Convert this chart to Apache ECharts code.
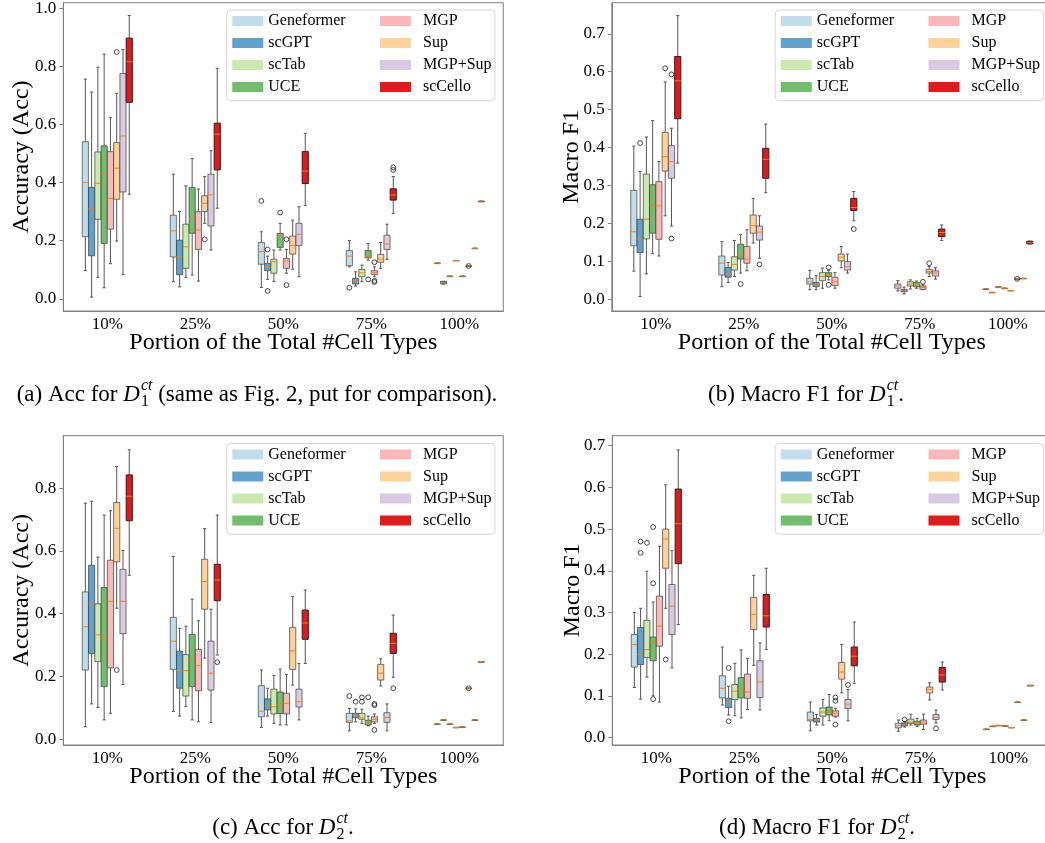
<!DOCTYPE html>
<html><head><meta charset="utf-8">
<script src="https://cdn.jsdelivr.net/npm/echarts@6/dist/echarts.min.js"></script>
<style>html,body{margin:0;padding:0;background:#fff}#c{width:1045px;height:843px}</style>
</head><body><div id="c"></div>
<script>
// ---------- data ----------
const categories = ['10%', '25%', '50%', '75%', '100%'];
const models = ['Geneformer', 'scGPT', 'scTab', 'UCE', 'MGP', 'Sup', 'MGP+Sup', 'scCello'];
const yTicksAccD1 = [0, 0.2, 0.4, 0.6, 0.8, 1.0];
const yTicksF1D1 = [0, 0.1, 0.2, 0.3, 0.4, 0.5, 0.6, 0.7];
const yTicksAccD2 = [0, 0.2, 0.4, 0.6, 0.8];
const yTicksF1D2 = [0, 0.1, 0.2, 0.3, 0.4, 0.5, 0.6, 0.7];

// each model: 5 categories of [min, q1, median, q3, max]
const accD1 = [
  [[0.097,0.214,0.401,0.541,0.757],[0.059,0.144,0.234,0.288,0.429],[0.039,0.119,0.163,0.194,0.231],[0.110,0.114,0.147,0.166,0.201],[0.123,0.123,0.123,0.123,0.123]],
  [[0.006,0.148,0.310,0.384,0.712],[0.041,0.083,0.145,0.202,0.301],[0.067,0.097,0.110,0.122,0.147],[0.044,0.051,0.061,0.070,0.093],[0.051,0.051,0.055,0.060,0.060]],
  [[0.074,0.274,0.398,0.506,0.798],[0.074,0.105,0.179,0.257,0.389],[0.060,0.088,0.128,0.136,0.168],[0.059,0.076,0.090,0.101,0.116],[0.078,0.078,0.078,0.078,0.078]],
  [[0.038,0.191,0.432,0.527,0.843],[0.082,0.226,0.277,0.383,0.483],[0.168,0.177,0.217,0.225,0.260],[0.133,0.141,0.145,0.166,0.190],[0.132,0.132,0.132,0.132,0.132]],
  [[0.121,0.240,0.346,0.507,0.624],[0.061,0.170,0.237,0.300,0.378],[0.088,0.105,0.130,0.139,0.170],[0.076,0.084,0.090,0.097,0.110],[0.078,0.078,0.078,0.078,0.078]],
  [[0.199,0.343,0.450,0.538,0.708],[0.260,0.301,0.329,0.355,0.421],[0.102,0.154,0.184,0.216,0.271],[0.105,0.126,0.137,0.153,0.194],[0.113,0.113,0.113,0.113,0.113]],
  [[0.083,0.368,0.561,0.776,0.858],[0.168,0.251,0.358,0.429,0.510],[0.076,0.183,0.222,0.260,0.317],[0.136,0.170,0.189,0.219,0.257],[0.174,0.174,0.174,0.174,0.174]],
  [[0.360,0.677,0.817,0.898,0.976],[0.312,0.444,0.567,0.605,0.794],[0.321,0.397,0.440,0.507,0.570],[0.294,0.340,0.358,0.379,0.421],[0.336,0.336,0.336,0.336,0.336]]
];
// [categoryIndex, modelIndex, value]
const accD1Outliers = [
  [0,5,0.850],[1,5,0.205],[2,0,0.337],[2,1,0.170],[2,1,0.027],[2,3,0.297],[2,4,0.205],[2,4,0.047],
  [3,0,0.038],[3,3,0.067],[3,4,0.126],[3,4,0.058],[3,4,0.062],[3,7,0.453],[3,7,0.444],[4,5,0.113]
];

const f1D1 = [
  [[0.074,0.141,0.178,0.287,0.404],[0.033,0.064,0.095,0.114,0.152],[0.025,0.040,0.046,0.055,0.076],[0.022,0.029,0.035,0.040,0.049],[0.027,0.027,0.027,0.027,0.027]],
  [[0.007,0.123,0.159,0.211,0.337],[0.044,0.058,0.067,0.084,0.097],[0.025,0.033,0.038,0.044,0.062],[0.014,0.020,0.023,0.026,0.032],[0.018,0.018,0.018,0.018,0.018]],
  [[0.067,0.159,0.211,0.330,0.428],[0.060,0.077,0.092,0.112,0.155],[0.029,0.049,0.060,0.070,0.082],[0.027,0.035,0.040,0.046,0.051],[0.033,0.033,0.033,0.033,0.033]],
  [[0.120,0.174,0.249,0.302,0.471],[0.069,0.106,0.115,0.145,0.171],[0.051,0.060,0.064,0.070,0.076],[0.029,0.033,0.040,0.044,0.048],[0.029,0.029,0.029,0.029,0.029]],
  [[0.114,0.158,0.246,0.310,0.363],[0.075,0.095,0.106,0.139,0.183],[0.029,0.036,0.046,0.058,0.070],[0.025,0.026,0.031,0.035,0.038],[0.023,0.023,0.023,0.023,0.023]],
  [[0.220,0.338,0.376,0.440,0.573],[0.148,0.174,0.194,0.222,0.266],[0.083,0.101,0.111,0.119,0.139],[0.060,0.069,0.073,0.079,0.086],[0.054,0.054,0.054,0.054,0.054]],
  [[0.193,0.319,0.363,0.405,0.451],[0.108,0.156,0.177,0.193,0.220],[0.069,0.077,0.086,0.099,0.119],[0.053,0.061,0.069,0.075,0.083],[0.055,0.055,0.055,0.055,0.055]],
  [[0.359,0.476,0.576,0.640,0.748],[0.281,0.319,0.369,0.398,0.462],[0.207,0.234,0.242,0.266,0.284],[0.155,0.165,0.176,0.185,0.196],[0.146,0.146,0.149,0.153,0.153]]
];
const f1D1Outliers = [
  [0,1,0.412],[0,5,0.609],[0,6,0.593],[0,6,0.160],[1,3,0.040],[1,6,0.092],[2,3,0.084],[2,3,0.038],
  [2,7,0.185],[3,4,0.046],[3,5,0.095],[4,5,0.054]
];

const accD2 = [
  [[0.039,0.220,0.358,0.469,0.752],[0.088,0.222,0.312,0.388,0.582],[0.037,0.071,0.089,0.170,0.220],[0.026,0.053,0.058,0.082,0.098],[0.048,0.048,0.048,0.048,0.048]],
  [[0.112,0.273,0.431,0.554,0.758],[0.073,0.162,0.218,0.280,0.353],[0.073,0.093,0.106,0.128,0.162],[0.055,0.068,0.077,0.082,0.096],[0.061,0.061,0.061,0.061,0.061]],
  [[0.101,0.247,0.332,0.431,0.580],[0.103,0.137,0.218,0.269,0.360],[0.050,0.080,0.103,0.159,0.203],[0.050,0.063,0.067,0.082,0.095],[0.048,0.048,0.048,0.048,0.048]],
  [[0.061,0.167,0.321,0.483,0.714],[0.061,0.167,0.255,0.334,0.446],[0.045,0.081,0.111,0.150,0.223],[0.042,0.045,0.053,0.060,0.073],[0.037,0.037,0.037,0.037,0.037]],
  [[0.082,0.227,0.439,0.570,0.728],[0.055,0.154,0.234,0.286,0.377],[0.045,0.080,0.114,0.146,0.206],[0.050,0.055,0.063,0.071,0.080],[0.039,0.039,0.039,0.039,0.039]],
  [[0.417,0.565,0.672,0.754,0.869],[0.258,0.414,0.502,0.573,0.671],[0.172,0.222,0.281,0.356,0.454],[0.169,0.188,0.210,0.238,0.256],[0.162,0.162,0.162,0.162,0.162]],
  [[0.174,0.336,0.439,0.541,0.601],[0.053,0.156,0.210,0.312,0.414],[0.061,0.102,0.119,0.159,0.241],[0.026,0.053,0.069,0.084,0.112],[0.061,0.061,0.061,0.061,0.061]],
  [[0.522,0.696,0.774,0.842,0.922],[0.268,0.441,0.507,0.557,0.714],[0.241,0.318,0.370,0.411,0.475],[0.197,0.273,0.305,0.337,0.395],[0.247,0.247,0.247,0.247,0.247]]
];
const accD2Outliers = [
  [0,5,0.220],[1,7,0.245],[3,0,0.137],[3,1,0.119],[3,2,0.133],[3,2,0.119],[3,3,0.133],
  [3,4,0.112],[3,4,0.108],[3,4,0.029],[3,7,0.162],[4,5,0.162]
];

const f1D2 = [
  [[0.120,0.169,0.223,0.247,0.300],[0.078,0.095,0.118,0.148,0.217],[0.016,0.040,0.043,0.061,0.085],[0.015,0.023,0.028,0.034,0.042],[0.020,0.020,0.020,0.020,0.020]],
  [[0.092,0.175,0.199,0.264,0.310],[0.054,0.072,0.085,0.094,0.123],[0.030,0.037,0.042,0.046,0.055],[0.025,0.028,0.031,0.035,0.038],[0.027,0.027,0.027,0.027,0.027]],
  [[0.145,0.192,0.211,0.281,0.399],[0.052,0.091,0.111,0.127,0.178],[0.030,0.051,0.061,0.071,0.091],[0.030,0.034,0.037,0.044,0.056],[0.029,0.029,0.029,0.029,0.029]],
  [[0.100,0.184,0.229,0.241,0.325],[0.047,0.095,0.118,0.144,0.210],[0.040,0.054,0.061,0.073,0.103],[0.027,0.030,0.035,0.039,0.046],[0.028,0.028,0.028,0.028,0.028]],
  [[0.085,0.219,0.267,0.339,0.459],[0.067,0.094,0.109,0.152,0.190],[0.049,0.051,0.058,0.064,0.070],[0.019,0.032,0.037,0.042,0.056],[0.024,0.024,0.024,0.024,0.024]],
  [[0.310,0.406,0.476,0.500,0.606],[0.173,0.259,0.295,0.336,0.389],[0.107,0.140,0.157,0.180,0.223],[0.090,0.107,0.115,0.121,0.131],[0.085,0.085,0.085,0.085,0.085]],
  [[0.167,0.247,0.315,0.367,0.448],[0.066,0.096,0.133,0.184,0.227],[0.040,0.070,0.080,0.091,0.115],[0.035,0.043,0.048,0.055,0.066],[0.042,0.042,0.042,0.042,0.042]],
  [[0.271,0.417,0.513,0.596,0.690],[0.211,0.265,0.292,0.343,0.406],[0.130,0.172,0.195,0.217,0.277],[0.114,0.133,0.150,0.168,0.181],[0.125,0.125,0.125,0.125,0.125]]
];
const f1D2Outliers = [
  [0,1,0.470],[0,1,0.443],[0,2,0.467],[0,3,0.505],[0,3,0.370],[0,3,0.092],[0,5,0.187],
  [1,1,0.167],[1,1,0.039],[2,4,0.096],[2,4,0.088],[2,4,0.031],[2,6,0.126],[3,1,0.043],[3,6,0.022]
];

// ---------- styles ----------
const baseColors = ['#a6cee3','#1f78b4','#b2df8a','#33a02c','#fb9a99','#fdbf6f','#cab2d6','#e31a1c'];
function mix(hex, a) {
  const r = parseInt(hex.slice(1,3),16), g = parseInt(hex.slice(3,5),16), b = parseInt(hex.slice(5,7),16);
  const f = c => Math.round(c * a + 255 * (1 - a));
  return 'rgb(' + f(r) + ',' + f(g) + ',' + f(b) + ')';
}
const fillColors = baseColors.map((c, i) => i === 7 ? c : mix(c, 0.7));
const FONT = '"Liberation Serif", "Times New Roman", serif';
const STEP_FRAC = 0.0713;

const panels = [
  { data: accD1, out: accD1Outliers, ticks: yTicksAccD1, yMin: -0.042, yMax: 1.02, yName: 'Accuracy (Acc)', yGap: 30,
    grid: { left: 63.3, top: 2.7, width: 440, height: 308.3 }, box: [226.7, 10] },
  { data: f1D1, out: f1D1Outliers, ticks: yTicksF1D1, yMin: -0.031, yMax: 0.782, yName: 'Macro F1', yGap: 28,
    grid: { left: 611.8, top: 2.7, width: 440, height: 308.3 }, box: [775.2, 10] },
  { data: accD2, out: accD2Outliers, ticks: yTicksAccD2, yMin: -0.019, yMax: 0.967, yName: 'Accuracy (Acc)', yGap: 30,
    grid: { left: 63.3, top: 435.7, width: 440, height: 309.3 }, box: [226.7, 443.5] },
  { data: f1D2, out: f1D2Outliers, ticks: yTicksF1D2, yMin: -0.018, yMax: 0.724, yName: 'Macro F1', yGap: 28,
    grid: { left: 612.3, top: 435.7, width: 440, height: 309.3 }, box: [775.2, 443.5] }
];

function boxRender(params, api) {
  const cat = api.value(0), mi = api.value(1);
  const band = api.size([1, 0])[0];
  const step = band * STEP_FRAC;
  const cx = api.coord([cat, 0])[0] + (mi - 3.5) * step;
  const w = step * 0.98;
  const y = [2,3,4,5,6].map(i => api.coord([cat, api.value(i)])[1]);
  const edge = mi === 7 ? '#222' : 'rgba(50,50,50,0.65)';
  const wh = '#555';
  const line = (x1, y1, x2, y2, stroke) => ({ type: 'line', shape: { x1, y1, x2, y2 }, style: { stroke, lineWidth: 1 } });
  return {
    type: 'group',
    children: [
      line(cx, y[0], cx, y[1], wh),
      line(cx, y[3], cx, y[4], wh),
      line(cx - w / 4, y[0], cx + w / 4, y[0], wh),
      line(cx - w / 4, y[4], cx + w / 4, y[4], wh),
      { type: 'rect', shape: { x: cx - w / 2, y: y[3], width: w, height: Math.max(y[1] - y[3], 0.5) },
        style: { fill: fillColors[mi], stroke: edge, lineWidth: 1 } },
      line(cx - w / 2, y[2], cx + w / 2, y[2], '#ff7f0e')
    ]
  };
}
function outRender(params, api) {
  const cat = api.value(0), mi = api.value(1);
  const band = api.size([1, 0])[0];
  const step = band * STEP_FRAC;
  const p = api.coord([cat, api.value(2)]);
  return { type: 'circle', shape: { cx: p[0] + (mi - 3.5) * step, cy: p[1], r: 2.4 },
    style: { fill: 'none', stroke: '#333', lineWidth: 0.9 } };
}

const grids = [], xAxes = [], yAxes = [], series = [], legends = [], graphics = [];
panels.forEach((p, pi) => {
  grids.push(Object.assign({ show: true, borderColor: '#808080', borderWidth: 1, outerBoundsMode: 'none', containLabel: false }, p.grid));
  xAxes.push({
    type: 'category', gridIndex: pi, data: categories, boundaryGap: true,
    axisLine: { onZero: false, lineStyle: { color: '#808080' } },
    axisTick: { alignWithLabel: true, length: 4, lineStyle: { color: '#808080' } },
    axisLabel: { fontFamily: FONT, fontSize: 17, color: '#000', margin: 5 },
    splitLine: { show: false },
    name: 'Portion of the Total #Cell Types', nameLocation: 'middle', nameGap: 20, nameMoveOverlap: false,
    nameTextStyle: { fontFamily: FONT, fontSize: 24, color: '#000' }
  });
  yAxes.push({
    type: 'value', gridIndex: pi, min: p.yMin, max: p.yMax,
    axisLine: { show: true, lineStyle: { color: '#808080' } },
    axisTick: { show: true, length: 4, customValues: p.ticks, lineStyle: { color: '#808080' } },
    axisLabel: { customValues: p.ticks, formatter: v => v.toFixed(1), fontFamily: FONT, fontSize: 17, color: '#000', margin: 7 },
    splitLine: { show: false },
    name: p.yName, nameLocation: 'middle', nameGap: p.yGap, nameMoveOverlap: false,
    nameTextStyle: { fontFamily: FONT, fontSize: 24, color: '#000' }
  });
  models.forEach((m, mi) => {
    series.push({
      type: 'custom', name: m, xAxisIndex: pi, yAxisIndex: pi,
      renderItem: boxRender,
      itemStyle: { color: fillColors[mi] },
      encode: { x: 0, y: [2, 6] },
      data: p.data[mi].map((v, ci) => [ci, mi].concat(v)),
      z: 2, silent: true
    });
  });
  series.push({
    type: 'custom', name: 'outliers' + pi, xAxisIndex: pi, yAxisIndex: pi,
    renderItem: outRender, encode: { x: 0, y: 2 }, data: p.out, z: 3, silent: true
  });
  const common = {
    orient: 'vertical', icon: 'rect', itemWidth: 31, itemHeight: 10, itemGap: 6, padding: 0,
    selectedMode: false, z: 6,
    itemStyle: { borderWidth: 0 },
    textStyle: { fontFamily: FONT, fontSize: 16, lineHeight: 16, color: '#000' }
  };
  legends.push(Object.assign({}, common, { left: p.box[0] + 5.6, top: p.box[1] + 3, data: models.slice(0, 4) }));
  legends.push(Object.assign({}, common, { left: p.box[0] + 153.3, top: p.box[1] + 3, data: models.slice(4),
    textStyle: Object.assign({}, common.textStyle, { padding: [0, 0, 0, 7] }) }));
  graphics.push({ type: 'rect', z: 5, shape: { x: p.box[0], y: p.box[1], width: 268.3, height: 90.7, r: 4 },
    style: { fill: 'rgba(255,255,255,0.8)', stroke: '#d6d6d6', lineWidth: 1 } });
});

// sub-captions
const mctx = document.createElement('canvas').getContext('2d');
function tw(text, size, style) { mctx.font = (style || '') + ' ' + size + 'px "Liberation Serif"'; return mctx.measureText(text).width; }
function caption(cx, cy, pre, sub, post, size) {
  const ss = Math.round(size * 0.7);
  const w1 = tw(pre, size), wD = tw('D', size, 'italic'), wS = Math.max(tw('ct', ss, 'italic'), tw(sub, ss)), w3 = tw(post, size);
  const total = w1 + wD + 1 + wS + w3;
  let x = cx - total / 2;
  const mk = (t, fs, italic, xx, yy) => ({ type: 'text', x: xx, y: yy, z: 10,
    style: { text: t, fontFamily: FONT, fontSize: fs, fontStyle: italic ? 'italic' : 'normal', fill: '#000',
      textAlign: 'left', textVerticalAlign: 'middle', align: 'left', verticalAlign: 'middle' } });
  const els = [];
  els.push(mk(pre, size, false, x, cy)); x += w1;
  els.push(mk('D', size, true, x, cy)); x += wD + 1;
  els.push(mk('ct', ss, true, x, cy - size * 0.42));
  els.push(mk(sub, ss, false, x, cy + size * 0.3));
  x += wS;
  els.push(mk(post, size, false, x, cy));
  return els;
}
const captions = [].concat(
  caption(257, 395, '(a) Acc for ', '1', ' (same as Fig. 2, put for comparison).', 23),
  caption(806, 395, '(b) Macro F1 for ', '1', '.', 23),
  caption(283, 828, '(c) Acc for ', '2', '.', 23),
  caption(817, 828, '(d) Macro F1 for ', '2', '.', 23)
);

const chart = echarts.init(document.getElementById('c'), null, { renderer: 'canvas' });
chart.setOption({
  animation: false,
  backgroundColor: '#fff',
  grid: grids, xAxis: xAxes, yAxis: yAxes,
  legend: legends,
  graphic: graphics.concat(captions),
  series: series
});
</script></body></html>
